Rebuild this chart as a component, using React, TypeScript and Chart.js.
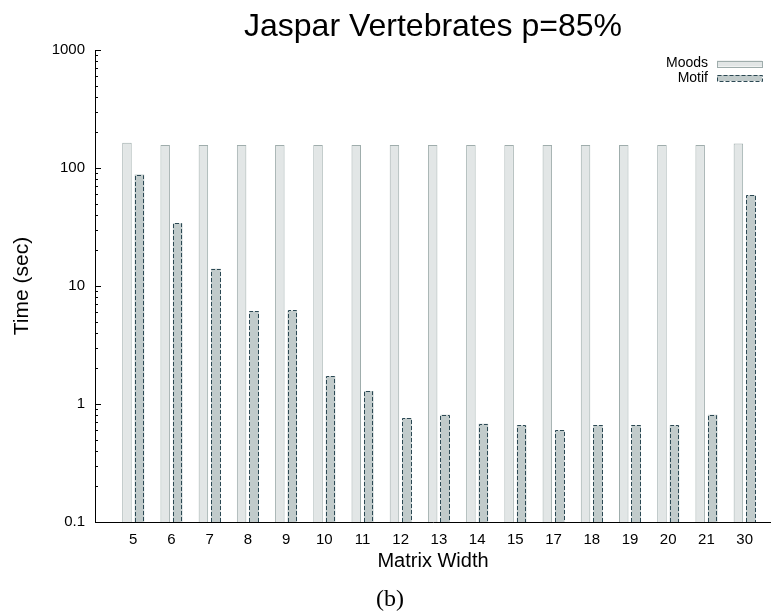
import React, { useEffect, useRef } from 'react';
import { Chart, registerables } from 'chart.js';

Chart.register(...registerables);

const categories = ['5', '6', '7', '8', '9', '10', '11', '12', '13', '14', '15', '17', '18', '19', '20', '21', '30'];
const moodsTimes = [164, 157, 157, 157, 157, 157, 157, 157, 157, 157, 157, 157, 157, 157, 157, 157, 161];
const motifTimes = [88, 34, 14, 6.1, 6.2, 1.73, 1.29, 0.76, 0.81, 0.68, 0.66, 0.6, 0.66, 0.66, 0.66, 0.81, 59];
const yTickValues = [0.1, 1, 10, 100, 1000];
const seriesNames = ['Moods', 'Motif'];
const chartTitle = 'Jaspar Vertebrates p=85%';
const xTitle = 'Matrix Width';
const yTitle = 'Time (sec)';
const caption = '(b)';

const FONT = '"Liberation Sans", Arial, Helvetica, sans-serif';
const MOODS_FILL = '#e2e6e6';
const MOODS_BORDER = '#9fadac';
const MOTIF_FILL = '#c1cbcb';
const MOTIF_BORDER = '#2b4853';

const isDecade = (v: number) => yTickValues.some((t) => Math.abs(t - v) < t * 1e-6);
const isWholeMantissa = (v: number) => {
  const m = v / Math.pow(10, Math.floor(Math.log10(v) + 1e-9));
  return Math.abs(m - Math.round(m)) < 1e-6;
};

const overlayPlugin = {
  id: 'overlay',
  afterDatasetsDraw(chart: any) {
    const ctx = chart.ctx;
    const meta = chart.getDatasetMeta(1);
    ctx.save();
    ctx.strokeStyle = MOTIF_BORDER;
    ctx.lineWidth = 1;
    ctx.setLineDash([4, 2]);
    meta.data.forEach((el: any) => {
      const { x, y, base, width } = el.getProps(['x', 'y', 'base', 'width'], true);
      const l = Math.round(x - width / 2) + 0.5;
      const r = Math.round(x + width / 2) - 0.5;
      const t = Math.round(y) + 0.5;
      ctx.beginPath();
      ctx.moveTo(l, base);
      ctx.lineTo(l, t);
      ctx.lineTo(r, t);
      ctx.lineTo(r, base);
      ctx.stroke();
    });
    ctx.restore();
  },
  afterDraw(chart: any) {
    const ctx = chart.ctx;
    const ys = chart.scales.y;
    const left = chart.chartArea.left;
    ctx.save();
    ctx.strokeStyle = '#000';
    ctx.lineWidth = 1;
    ys.ticks.forEach((tk: any) => {
      const v = tk.value;
      if (!isWholeMantissa(v)) return;
      const p = Math.round(ys.getPixelForValue(v)) + 0.5;
      const len = isDecade(v) ? 6 : 3;
      ctx.beginPath();
      ctx.moveTo(left, p);
      ctx.lineTo(left + len, p);
      ctx.stroke();
    });
    ctx.fillStyle = '#000';
    ctx.font = `32px ${FONT}`;
    ctx.textAlign = 'center';
    ctx.textBaseline = 'alphabetic';
    ctx.fillText(chartTitle, 433, 36);
    ctx.font = `14px ${FONT}`;
    ctx.textAlign = 'right';
    ctx.textBaseline = 'middle';
    const rows = [63.5, 78];
    seriesNames.forEach((name, i) => {
      const yy = rows[i];
      ctx.fillStyle = '#000';
      ctx.fillText(name, 708, yy);
      ctx.fillStyle = i === 0 ? MOODS_FILL : MOTIF_FILL;
      ctx.fillRect(717, yy - 3, 45, 6);
      ctx.strokeStyle = i === 0 ? MOODS_BORDER : MOTIF_BORDER;
      ctx.setLineDash(i === 0 ? [] : [4, 2]);
      ctx.strokeRect(717.5, Math.round(yy - 3) + 0.5, 45, 6);
    });
    ctx.restore();
  },
};

export default function App() {
  const ref = useRef<HTMLCanvasElement | null>(null);

  useEffect(() => {
    if (!ref.current) return;
    const chart = new Chart(ref.current, {
      type: 'bar',
      data: {
        datasets: [
          {
            label: seriesNames[0],
            data: moodsTimes.map((v, i) => ({ x: i, y: v })),
            backgroundColor: MOODS_FILL,
            borderColor: MOODS_BORDER,
            borderWidth: 1,
            categoryPercentage: 0.654,
            barPercentage: 0.76,
          },
          {
            label: seriesNames[1],
            data: motifTimes.map((v, i) => ({ x: i, y: v })),
            backgroundColor: MOTIF_FILL,
            borderWidth: 0,
            categoryPercentage: 0.654,
            barPercentage: 0.76,
          },
        ],
      },
      options: {
        animation: false,
        responsive: false,
        maintainAspectRatio: false,
        layout: { padding: { top: 50, left: 0, right: 0, bottom: 40 } },
        plugins: {
          legend: { display: false },
          title: { display: false },
          tooltip: { enabled: false },
        },
        scales: {
          x: {
            type: 'linear',
            min: -1,
            max: 16.69,
            offset: false,
            grid: { display: false, drawTicks: false },
            border: { display: true, color: '#000', width: 1 },
            ticks: {
              stepSize: 1,
              includeBounds: false,
              autoSkip: false,
              maxRotation: 0,
              padding: 9,
              color: '#000',
              font: { family: FONT, size: 15 },
              callback: (v: any) => {
                const n = Number(v);
                return Number.isInteger(n) && n >= 0 && n < categories.length ? categories[n] : '';
              },
            },
            title: {
              display: true,
              text: xTitle,
              color: '#000',
              font: { family: FONT, size: 20 },
              padding: { top: 0, bottom: 0 },
            },
            afterFit: (s: any) => {
              s.height = 51;
            },
          },
          y: {
            type: 'logarithmic',
            min: 0.1,
            max: 1000,
            grid: { display: false, drawTicks: false },
            border: { display: true, color: '#000', width: 1 },
            ticks: {
              autoSkip: false,
              padding: 10,
              color: '#000',
              font: { family: FONT, size: 15 },
              callback: (v: any) => {
                const n = Number(v);
                const t = yTickValues.find((d) => Math.abs(d - n) < d * 1e-6);
                return t !== undefined ? String(t) : '';
              },
            },
            title: {
              display: true,
              text: yTitle,
              color: '#000',
              font: { family: FONT, size: 21 },
              padding: { top: 10, bottom: 0 },
            },
            afterFit: (s: any) => {
              s.width = 95;
            },
          },
        },
      } as any,
      plugins: [overlayPlugin],
    });
    return () => chart.destroy();
  }, []);

  return (
    <div style={{ position: 'fixed', left: 0, top: 0, width: 771, height: 613, background: '#fff' }}>
      <canvas ref={ref} width={771} height={613} style={{ display: 'block', width: 771, height: 613 }} />
      <div
        style={{
          position: 'absolute',
          left: 350,
          width: 80,
          top: 586,
          lineHeight: '24px',
          textAlign: 'center',
          fontFamily: '"Liberation Serif", "DejaVu Serif", serif',
          fontSize: 24,
          color: '#000',
        }}
      >
        {caption}
      </div>
    </div>
  );
}
